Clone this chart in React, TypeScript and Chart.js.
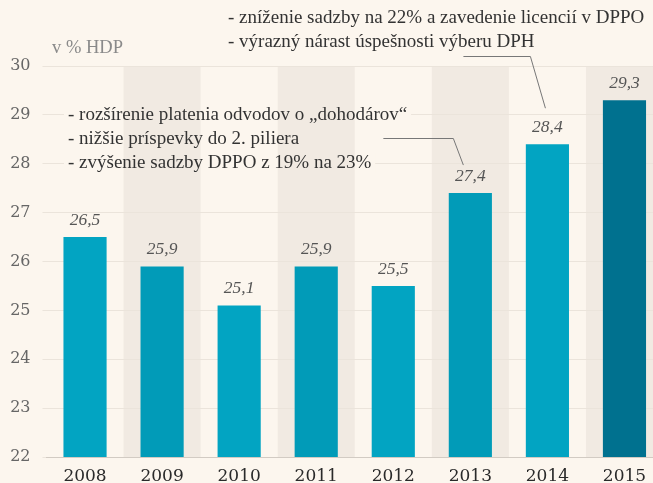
import React, { useEffect, useRef } from "react";
import { Chart, registerables } from "chart.js";

Chart.register(...registerables);

const years = ["2008", "2009", "2010", "2011", "2012", "2013", "2014", "2015"];
const values = [26.5, 25.9, 25.1, 25.9, 25.5, 27.4, 28.4, 29.3];
const barColors = ["#02a4c2", "#019bb8", "#02a4c2", "#019bb8", "#02a4c2", "#019bb8", "#02a4c2", "#00718f"];
const yMin = 22;
const yMax = 30;
const unitLabel = "v % HDP";
const noteTop = [
  "- zníženie sadzby na 22% a zavedenie licencií v DPPO",
  "- výrazný nárast úspešnosti výberu DPH",
];
const noteMid = [
  "- rozšírenie platenia odvodov o „dohodárov“",
  "- nižšie príspevky do 2. piliera",
  "- zvýšenie sadzby DPPO z 19% na 23%",
];

const SERIF = "'Liberation Serif', 'DejaVu Serif', serif";
const BG = "#fcf6ee";
const STRIPE = "#f1eae2";

export default function App() {
  const ref = useRef<HTMLCanvasElement | null>(null);

  useEffect(() => {
    const canvas = ref.current!;
    const paintBg = (chart: any, rx: number, ry: number, rw: number, rh: number) => {
      const { ctx, chartArea, scales } = chart;
      const band = (chartArea.right - chartArea.left) / years.length;
      ctx.save();
      ctx.beginPath();
      ctx.rect(rx, ry, rw, rh);
      ctx.clip();
      ctx.fillStyle = BG;
      ctx.fillRect(rx, ry, rw, rh);
      ctx.fillStyle = STRIPE;
      years.forEach((_, i) => {
        if (i % 2 === 1) {
          const cx = scales.x.getPixelForValue(i);
          ctx.fillRect(cx - band / 2, chartArea.top, band, chartArea.bottom - chartArea.top);
        }
      });
      ctx.restore();
    };
    const decor = {
      id: "decor",
      beforeDraw(chart: any) {
        paintBg(chart, 0, 0, chart.width, chart.height);
      },
      beforeDatasetsDraw(chart: any) {
        const { ctx } = chart;
        ctx.save();
        ctx.font = `19px ${SERIF}`;
        noteMid.forEach((t, i) => {
          const w = ctx.measureText(t).width;
          paintBg(chart, 64, 115 + i * 24 - 10, w + 8, 20);
        });
        ctx.restore();
      },
      afterDatasetsDraw(chart: any) {
        const { ctx } = chart;
        const meta = chart.getDatasetMeta(0);
        ctx.save();
        // value labels
        ctx.font = `italic 17.5px ${SERIF}`;
        ctx.fillStyle = "#555";
        ctx.textAlign = "center";
        ctx.textBaseline = "middle";
        meta.data.forEach((bar: any, i: number) => {
          ctx.fillText(values[i].toFixed(1).replace(".", ","), bar.x, bar.y - 17);
        });
        // unit label
        ctx.textAlign = "left";
        ctx.font = `18.5px ${SERIF}`;
        ctx.fillStyle = "#8a8a8a";
        ctx.fillText(unitLabel, 52, 48);
        // notes
        ctx.font = `19px ${SERIF}`;
        ctx.fillStyle = "#333";
        noteTop.forEach((t, i) => ctx.fillText(t, 228, 18 + i * 24));
        noteMid.forEach((t, i) => ctx.fillText(t, 68, 115 + i * 24));
        // leaders
        ctx.strokeStyle = "#777";
        ctx.lineWidth = 1;
        const b14 = meta.data[6];
        const b13 = meta.data[5];
        ctx.beginPath();
        ctx.moveTo(b14.x - 84, 56.5);
        ctx.lineTo(b14.x - 17, 56.5);
        ctx.lineTo(b14.x - 2, b14.y - 36);
        ctx.stroke();
        ctx.beginPath();
        ctx.moveTo(b13.x - 87, 138.5);
        ctx.lineTo(b13.x - 17, 138.5);
        ctx.lineTo(b13.x - 7, b13.y - 28);
        ctx.stroke();
        ctx.restore();
      },
    };

    const chart = new Chart(canvas, {
      type: "bar",
      data: {
        labels: years,
        datasets: [
          {
            data: values,
            backgroundColor: barColors,
            borderWidth: 0,
            barPercentage: 0.56,
            categoryPercentage: 1,
          },
        ],
      },
      options: {
        animation: false,
        responsive: false,
        devicePixelRatio: 1,
        layout: { padding: { top: 66, left: 0, right: 0, bottom: 0 } },
        plugins: { legend: { display: false }, tooltip: { enabled: false } },
        scales: {
          x: {
            grid: { display: false },
            border: { display: true, color: "#d2cbc3", width: 1 },
            ticks: {
              color: "#2a2a2a",
              font: { family: "'DejaVu Serif', serif", size: 17, lineHeight: 1 },
              padding: 3,
            },
            afterFit(scale: any) {
              scale.height = 26;
            },
          },
          y: {
            min: yMin,
            max: yMax,
            grid: { color: "#ebe4db", tickLength: 4, drawTicks: true },
            border: { display: false },
            ticks: {
              stepSize: 1,
              color: "#666",
              font: { family: "'DejaVu Serif', serif", size: 16 },
              padding: 12,
            },
            afterFit(scale: any) {
              scale.width = 46.5;
            },
          },
        },
      },
      plugins: [decor],
    });
    return () => chart.destroy();
  }, []);

  return (
    <div style={{ position: "absolute", left: 0, top: 0, width: 653, height: 483, overflow: "hidden", background: BG }}>
      <canvas ref={ref} width={663} height={483} style={{ width: 663, height: 483, display: "block" }} />
    </div>
  );
}
